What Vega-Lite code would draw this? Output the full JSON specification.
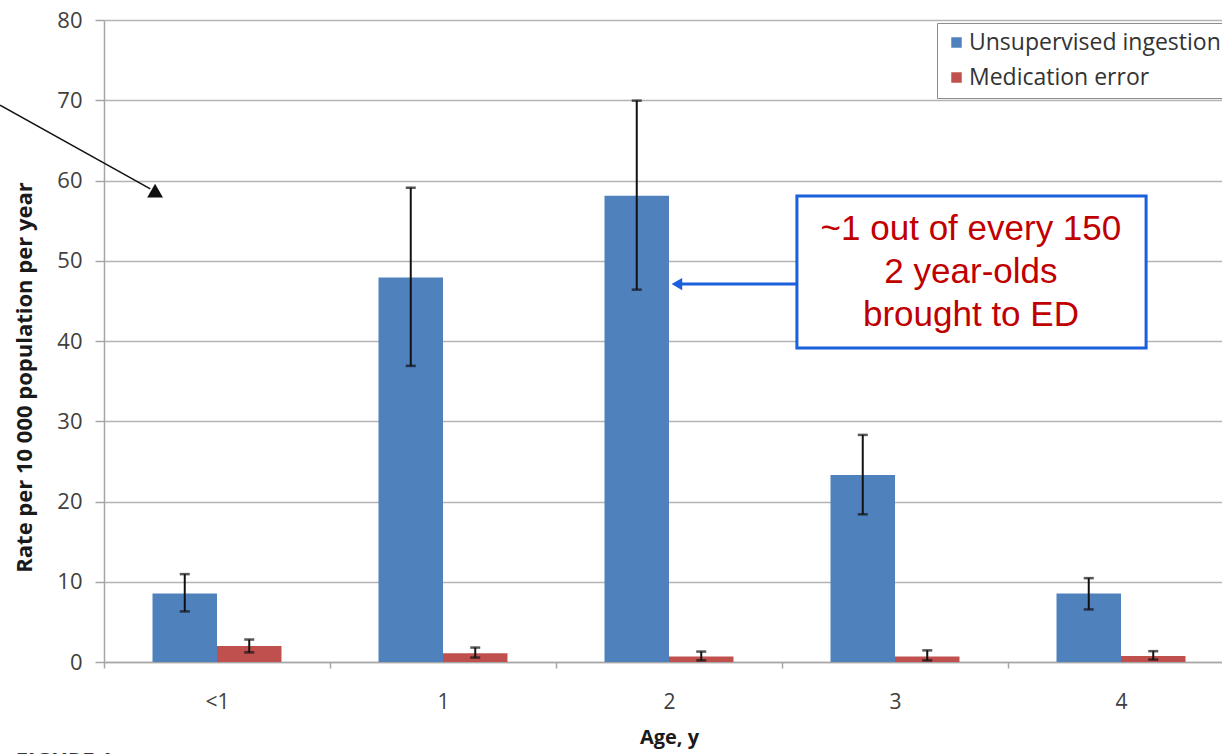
{
  "$schema": "https://vega.github.io/schema/vega-lite/v6.json",
  "autosize": {"type": "none"},
  "padding": {"left": 104, "top": 20, "right": 0, "bottom": 92},
  "width": 1130,
  "height": 642,
  "background": "white",
  "config": {
    "view": {"stroke": null},
    "font": "Open Sans",
    "axis": {"labelFont": "Open Sans", "titleFont": "Open Sans"}
  },
  "datasets": {
    "bars": [
      {"age": "<1", "series": "Unsupervised ingestion", "value": 8.55, "lo": 6.3, "hi": 10.95},
      {"age": "<1", "series": "Medication error", "value": 2.0, "lo": 1.2, "hi": 2.8},
      {"age": "1", "series": "Unsupervised ingestion", "value": 47.9, "lo": 36.9, "hi": 59.1},
      {"age": "1", "series": "Medication error", "value": 1.1, "lo": 0.55, "hi": 1.8},
      {"age": "2", "series": "Unsupervised ingestion", "value": 58.1, "lo": 46.4, "hi": 69.95},
      {"age": "2", "series": "Medication error", "value": 0.7, "lo": 0.2, "hi": 1.3},
      {"age": "3", "series": "Unsupervised ingestion", "value": 23.3, "lo": 18.4, "hi": 28.3},
      {"age": "3", "series": "Medication error", "value": 0.7, "lo": 0.2, "hi": 1.45},
      {"age": "4", "series": "Unsupervised ingestion", "value": 8.55, "lo": 6.55, "hi": 10.45},
      {"age": "4", "series": "Medication error", "value": 0.75, "lo": 0.3, "hi": 1.35}
    ],
    "blackArrow": [
      {"ax": -0.46, "ay": 69.4, "ax2": 0.205, "ay2": 58.95}
    ],
    "blackHead": [{"ax": 0.226, "ay": 58.75}],
    "blueArrow": [{"ax": 3.066, "ay": 47.1, "ax2": 2.55, "ay2": 47.1}],
    "blueHead": [{"ax": 2.535, "ay": 47.1}],
    "box": [{"ax": 3.066, "ay": 58.07, "ax2": 4.611, "ay2": 39.13}],
    "boxText": [
      {"ax": 3.836, "ay": 53.96, "label": "~1 out of every 150"},
      {"ax": 3.836, "ay": 48.6, "label": "2 year-olds"},
      {"ax": 3.836, "ay": 43.3, "label": "brought to ED"}
    ],
    "figure": [{"ax": -0.39, "ay": -11.1, "label": "FIGURE 1"}]
  },
  "layer": [
    {
      "data": {"name": "bars"},
      "encoding": {
        "x": {
          "field": "age", "type": "nominal", "sort": ["<1", "1", "2", "3", "4"],
          "scale": {"paddingInner": 0, "paddingOuter": 0},
          "axis": {
            "title": "Age, y", "titleFontSize": 20, "titleFontWeight": "bold", "titleColor": "#1a1a1a",
            "titlePadding": 15,
            "labelAngle": 0, "labelFontSize": 21, "labelColor": "#404040", "labelPadding": 23,
            "tickBand": "extent", "tickSize": 6, "tickColor": "#a6a6a6", "tickWidth": 1.5,
            "domainColor": "#a6a6a6", "domainWidth": 1.5, "grid": false
          }
        },
        "xOffset": {
          "field": "series", "type": "nominal", "sort": ["Unsupervised ingestion", "Medication error"],
          "scale": {"paddingOuter": 0.752, "paddingInner": 0}
        }
      },
      "layer": [
        {
          "mark": {"type": "bar"},
          "encoding": {
            "y": {
              "field": "value", "type": "quantitative",
              "scale": {"domain": [0, 80], "nice": false},
              "axis": {
                "title": "Rate per 10 000 population per year", "titleFontSize": 22, "titleFontWeight": "bold",
                "titleColor": "#1a1a1a", "titlePadding": 20, "titleY": 357,
                "values": [0, 10, 20, 30, 40, 50, 60, 70, 80],
                "labelFontSize": 22, "labelColor": "#404040", "labelPadding": 13,
                "tickSize": 9, "tickColor": "#a6a6a6", "tickWidth": 1.5,
                "domainColor": "#a6a6a6", "domainWidth": 1.5,
                "grid": true, "gridColor": "#b4b4b4", "gridWidth": 1.5
              }
            },
            "color": {
              "field": "series", "type": "nominal",
              "scale": {"domain": ["Unsupervised ingestion", "Medication error"], "range": ["#4F81BD", "#C0504D"]},
              "legend": {
                "title": null, "orient": "none", "legendX": 833, "legendY": 3,
                "direction": "vertical",
                "symbolType": "square", "symbolSize": 110, "symbolStrokeWidth": 0,
                "labelFontSize": 23, "labelColor": "#333333", "labelFont": "Open Sans",
                "rowPadding": 11, "padding": 8, "labelOffset": 1, "labelLimit": 400,
                "strokeColor": "#8c8c8c", "fillColor": "white"
              }
            }
          }
        },
        {
          "mark": {"type": "rule", "color": "#111111", "strokeWidth": 2},
          "encoding": {
            "y": {"field": "lo", "type": "quantitative"},
            "y2": {"field": "hi"}
          }
        },
        {
          "mark": {"type": "tick", "color": "#111111", "thickness": 2.5, "size": 10, "orient": "horizontal"},
          "encoding": {
            "y": {"field": "lo", "type": "quantitative"}
          }
        },
        {
          "mark": {"type": "tick", "color": "#111111", "thickness": 2.5, "size": 10, "orient": "horizontal"},
          "encoding": {
            "y": {"field": "hi", "type": "quantitative"}
          }
        }
      ]
    },
    {
      "layer": [
        {
          "data": {"name": "blackArrow"},
          "mark": {"type": "rule", "color": "#111111", "strokeWidth": 1.5},
          "encoding": {
            "x": {"field": "ax", "type": "quantitative", "scale": {"domain": [0, 5], "nice": false, "zero": false}, "axis": null},
            "y": {"field": "ay", "type": "quantitative"},
            "x2": {"field": "ax2"},
            "y2": {"field": "ay2"}
          }
        },
        {
          "data": {"name": "blackHead"},
          "mark": {"type": "point", "shape": "triangle-up", "filled": true, "color": "#111111", "size": 250, "opacity": 1},
          "encoding": {
            "x": {"field": "ax", "type": "quantitative"},
            "y": {"field": "ay", "type": "quantitative"}
          }
        },
        {
          "data": {"name": "box"},
          "mark": {"type": "rect", "fill": "white", "stroke": "#1a5fdb", "strokeWidth": 3},
          "encoding": {
            "x": {"field": "ax", "type": "quantitative"},
            "y": {"field": "ay", "type": "quantitative"},
            "x2": {"field": "ax2"},
            "y2": {"field": "ay2"}
          }
        },
        {
          "data": {"name": "blueArrow"},
          "mark": {"type": "rule", "color": "#1a5fdb", "strokeWidth": 3},
          "encoding": {
            "x": {"field": "ax", "type": "quantitative"},
            "y": {"field": "ay", "type": "quantitative"},
            "x2": {"field": "ax2"},
            "y2": {"field": "ay2"}
          }
        },
        {
          "data": {"name": "blueHead"},
          "mark": {"type": "point", "shape": "triangle-left", "filled": true, "color": "#1a5fdb", "size": 150, "opacity": 1},
          "encoding": {
            "x": {"field": "ax", "type": "quantitative"},
            "y": {"field": "ay", "type": "quantitative"}
          }
        },
        {
          "data": {"name": "boxText"},
          "mark": {"type": "text", "font": "Liberation Sans", "fontSize": 35, "color": "#C00000", "align": "center", "baseline": "middle"},
          "encoding": {
            "x": {"field": "ax", "type": "quantitative"},
            "y": {"field": "ay", "type": "quantitative"},
            "text": {"field": "label"}
          }
        },
        {
          "data": {"name": "figure"},
          "mark": {"type": "text", "font": "Open Sans", "fontWeight": "bold", "fontSize": 22, "color": "#333333", "align": "left", "baseline": "top"},
          "encoding": {
            "x": {"field": "ax", "type": "quantitative"},
            "y": {"field": "ay", "type": "quantitative"},
            "text": {"field": "label"}
          }
        }
      ]
    }
  ],
  "resolve": {"scale": {"x": "independent"}}
}
